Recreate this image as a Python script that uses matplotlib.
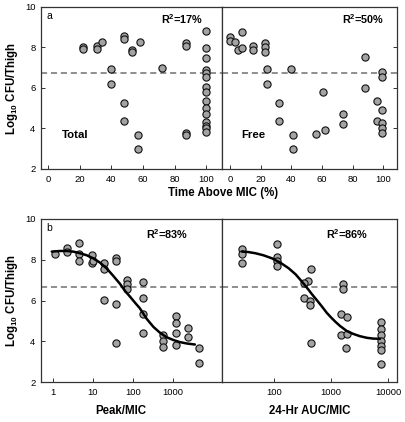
import matplotlib
matplotlib.use("Agg")
import matplotlib.pyplot as plt
from matplotlib.ticker import FixedLocator, NullLocator, FixedFormatter

plt.rcParams['font.family'] = ['Liberation Sans', 'DejaVu Sans']
plt.rcParams['mathtext.fontset'] = 'custom'
plt.rcParams['mathtext.rm'] = 'Liberation Sans'
plt.rcParams['mathtext.bf'] = 'Liberation Sans:bold'
plt.rcParams['mathtext.default'] = 'regular'

# ---------------- data ----------------
# Panel a, Total: time above MIC (%) vs log10 CFU/thigh
total_t = [22, 22, 31, 31, 34, 40, 40, 48, 48, 48, 48, 53, 53, 57, 57, 58, 72, 87, 87, 87, 87,
           100, 100, 100, 100, 100, 100, 100, 100, 100, 100, 100, 100, 100, 100, 100]
total_cfu = [8.04, 7.93, 8.09, 7.91, 8.29, 6.94, 6.18, 8.57, 8.40, 5.28, 4.39, 7.90, 7.76, 3.68, 3.00,
             8.29, 7.00, 8.24, 8.07, 3.76, 3.70,
             8.81, 7.99, 7.50, 6.89, 6.72, 6.56, 6.06, 5.82, 5.37, 5.00, 4.70, 4.34, 4.12, 4.00, 3.81]

# Panel a, Free
free_t = [0, 0, 3, 5, 8, 8, 15, 15, 23, 23, 23, 24, 24, 32, 32, 40, 41, 41, 56, 61, 62, 74, 74,
          88, 88, 96, 96, 99, 99, 99, 99, 99, 99]
free_cfu = [8.53, 8.32, 8.29, 7.88, 8.78, 7.96, 8.07, 7.88, 8.24, 8.04, 7.76, 6.94, 6.18, 5.24, 4.39,
            6.94, 3.66, 2.97, 3.73, 5.79, 3.94, 4.70, 4.22, 7.51, 6.02, 5.37, 4.39,
            6.81, 6.53, 4.90, 4.29, 4.03, 3.78]

# Panel b, Peak/MIC
peak = [1.12, 2.28, 2.28, 4.6, 4.6, 4.6, 9.3, 9.3, 10.2, 19, 19, 19, 38, 38, 38, 38,
        73, 73, 73, 177, 177, 177, 177, 585, 585, 585, 1200, 1200, 1200, 1200, 2400, 2400, 4470, 4470]
peak_cfu = [8.27, 8.56, 8.40, 8.81, 8.27, 7.95, 8.23, 7.86, 7.95, 7.83, 7.53, 6.02, 8.07, 7.95, 5.81, 3.92,
            7.01, 6.81, 6.56, 6.92, 6.14, 5.32, 4.39, 4.31, 4.03, 3.73, 5.25, 4.91, 4.39, 3.82,
            4.67, 4.22, 3.65, 2.95]
# fitted curve
peak_fit_x = [0.93, 1.5, 2.2, 3.2, 4.75, 7, 10.2, 15, 22, 32, 47.6, 65, 85, 115, 150, 223, 330,
              478, 700, 1040, 1500, 2260, 3600]
peak_fit_y = [8.40, 8.43, 8.43, 8.40, 8.32, 8.22, 8.07, 7.86, 7.58, 7.22, 6.82, 6.45, 6.19, 5.88,
              5.62, 5.10, 4.70, 4.42, 4.20, 4.06, 3.96, 3.89, 3.84]

# Panel b, 24-h AUC/MIC
auc = [27.4, 27.4, 27.4, 113, 113, 113, 113, 451, 395, 340, 340, 433, 433, 440,
       1600, 1600, 1480, 1890, 1480, 1890, 1830,
       7580, 7580, 7580, 7580, 7580, 7580, 7580]
auc_cfu = [8.51, 8.27, 7.86, 8.76, 8.15, 7.94, 7.71, 7.53, 6.97, 6.84, 6.11, 6.00, 5.78, 3.93,
           6.81, 6.55, 5.34, 5.20, 4.31, 4.36, 3.65,
           4.93, 4.60, 4.31, 4.01, 3.77, 3.57, 2.88]
auc_fit_x = [27.4, 35, 47, 65, 92, 130, 181, 240, 310, 380, 465, 570, 695, 840, 1000, 1200,
             1440, 1900, 2460, 3200, 4240, 5500, 7250]
auc_fit_y = [8.40, 8.38, 8.32, 8.22, 8.07, 7.85, 7.58, 7.28, 6.92, 6.62, 6.30, 6.00, 5.70, 5.40,
             5.17, 4.95, 4.75, 4.50, 4.36, 4.25, 4.17, 4.13, 4.12]

stasis_a = 6.72
stasis_b = 6.65
yticks = [2, 4, 6, 8, 10]
lin_ticks = [0, 20, 40, 60, 80, 100]

# ---------------- figure ----------------
W, H = 405, 422
fig = plt.figure(figsize=(W / 100, H / 100), dpi=100)


def ax_at(x0, y0, x1, y1):
    return fig.add_axes([x0 / W, 1 - y1 / H, (x1 - x0) / W, (y1 - y0) / H])


ax_tl = ax_at(41, 7, 222, 169)
ax_tr = ax_at(222, 7, 397, 169)
ax_bl = ax_at(41, 219, 222, 382)
ax_br = ax_at(222, 219, 397, 382)

mk = dict(s=27, facecolor='#a3a3a3', edgecolor='#111111', linewidths=0.8, zorder=3)
dash = dict(color='#707070', lw=1.1, ls=(0, (4, 2.5)), zorder=2)

for ax in (ax_tl, ax_tr, ax_bl, ax_br):
    ax.set_ylim(2, 10)
    for sp in ax.spines.values():
        sp.set_color('#333333')
        sp.set_linewidth(0.9)
    ax.tick_params(direction='in', length=3, width=0.7, colors='#333333',
                   labelcolor='black', labelsize=6.8, pad=4)
    ax.yaxis.set_major_locator(FixedLocator(yticks))

for ax in (ax_tr, ax_br):
    ax.tick_params(axis='y', left=False, labelleft=False)
ax_tr.tick_params(axis='y', right=True)
ax_tr.set_yticks([4, 6, 8])

# top-left
ax_tl.scatter(total_t, total_cfu, **mk)
ax_tl.axhline(stasis_a, **dash)
ax_tl.set_xlim(-4.5, 110)
ax_tl.set_xticks(lin_ticks)
# top-right
ax_tr.scatter(free_t, free_cfu, **mk)
ax_tr.axhline(stasis_a, **dash)
ax_tr.set_xlim(-5.2, 109)
ax_tr.set_xticks(lin_ticks)

# bottom-left
ax_bl.set_xscale('log')
ax_bl.scatter(peak, peak_cfu, **mk)
ax_bl.plot(peak_fit_x, peak_fit_y, color='black', lw=1.8, zorder=4,
           solid_capstyle='round', solid_joinstyle='round')
ax_bl.axhline(stasis_b, **dash)
ax_bl.set_xlim(0.5, 17200)
ax_bl.xaxis.set_major_locator(FixedLocator([1, 10, 100, 1000]))
ax_bl.xaxis.set_major_formatter(FixedFormatter(['1', '10', '100', '1000']))
ax_bl.xaxis.set_minor_locator(NullLocator())

# bottom-right
ax_br.set_xscale('log')
ax_br.scatter(auc, auc_cfu, **mk)
ax_br.plot(auc_fit_x, auc_fit_y, color='black', lw=1.8, zorder=4,
           solid_capstyle='round', solid_joinstyle='round')
ax_br.axhline(stasis_b, **dash)
ax_br.set_xlim(12.2, 14400)
ax_br.xaxis.set_major_locator(FixedLocator([100, 1000, 10000]))
ax_br.xaxis.set_major_formatter(FixedFormatter(['100', '1000', '10000']))
ax_br.xaxis.set_minor_locator(NullLocator())

# texts
ax_tl.text(0.03, 0.975, 'a', transform=ax_tl.transAxes, ha='left', va='top', fontsize=7.5)
ax_bl.text(0.03, 0.975, 'b', transform=ax_bl.transAxes, ha='left', va='top', fontsize=7.5)
ax_tl.text(0.895, 0.965, 'R$^2$=17%', transform=ax_tl.transAxes, ha='right', va='top',
           fontsize=7.8, fontweight='bold')
ax_tr.text(0.926, 0.965, 'R$^2$=50%', transform=ax_tr.transAxes, ha='right', va='top',
           fontsize=7.8, fontweight='bold')
ax_bl.text(0.812, 0.95, 'R$^2$=83%', transform=ax_bl.transAxes, ha='right', va='top',
           fontsize=7.8, fontweight='bold')
ax_br.text(0.834, 0.95, 'R$^2$=86%', transform=ax_br.transAxes, ha='right', va='top',
           fontsize=7.8, fontweight='bold')
ax_tl.text(0.116, 0.21, 'Total', transform=ax_tl.transAxes, ha='left', va='center',
           fontsize=8.2, fontweight='bold')
ax_tr.text(0.109, 0.21, 'Free', transform=ax_tr.transAxes, ha='left', va='center',
           fontsize=8.2, fontweight='bold')

ylab = 'Log$_{10}$ CFU/Thigh'
fig.text(12 / W, 1 - 88 / H, ylab, rotation=90, ha='center', va='center',
         fontsize=8.3, fontweight='bold')
fig.text(12 / W, 1 - 300.5 / H, ylab, rotation=90, ha='center', va='center',
         fontsize=8.3, fontweight='bold')
fig.text(223 / W, 1 - 193.5 / H, 'Time Above MIC (%)', ha='center', va='center',
         fontsize=8.3, fontweight='bold')
fig.text(121 / W, 1 - 411 / H, 'Peak/MIC', ha='center', va='center',
         fontsize=8.3, fontweight='bold')
fig.text(310 / W, 1 - 411 / H, '24-Hr AUC/MIC', ha='center', va='center',
         fontsize=8.3, fontweight='bold')

fig.savefig('out.png', dpi=100)
